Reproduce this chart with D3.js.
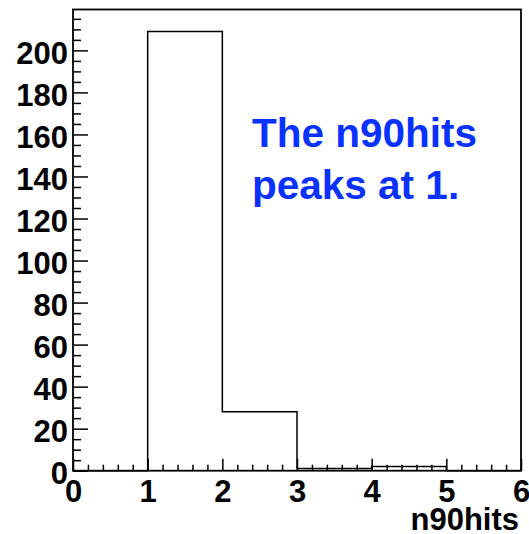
<!DOCTYPE html>
<html>
<head>
<meta charset="utf-8" />
<title></title>
<style>
  body { margin: 0; background: white; }
  text { font-family: "Liberation Sans", Arial, Helvetica, sans-serif; font-weight: bold; }
  .axis path { display: none; }
  .axis line { stroke: black; stroke-width: 1.5px; }
</style>
<script src="https://d3js.org/d3.v7.min.js"></script>
</head>
<body>
<script>
// histogram of n90hits, bins of width 1 from 0 to 6
var binEdges = [0, 1, 2, 3, 4, 5, 6];
var counts = [0, 209, 28, 1, 2, 0];
var xMajor = [0, 1, 2, 3, 4, 5, 6];
var yMajor = [0, 20, 40, 60, 80, 100, 120, 140, 160, 180, 200];
var note = ["The n90hits", "peaks at 1."];
var xTitle = "n90hits";

var width = 529, height = 534;
var frame = {left: 73, right: 521, top: 9.5, bottom: 470.7};

var svg = d3.select("body").append("svg")
    .attr("width", width)
    .attr("height", height);

var x = d3.scaleLinear().domain([0, 6]).range([frame.left, frame.right]);
var ymax = d3.max(counts) * 1.05;
var y = d3.scaleLinear().domain([0, ymax]).range([frame.bottom, frame.top]);

// minor ticks
var xMinor = d3.range(0, 6.001, 0.2).filter(function(v) { return Math.abs(v - Math.round(v)) > 1e-6; });
var yMinor = d3.range(0, ymax, 5).filter(function(v) { return v % 20 != 0; });

svg.append("g").attr("class", "axis")
    .attr("transform", "translate(0," + frame.bottom + ")")
    .call(d3.axisBottom(x).tickValues(xMinor).tickSizeInner(-6).tickSizeOuter(0).tickFormat(""));
svg.append("g").attr("class", "axis")
    .attr("transform", "translate(" + frame.left + ",0)")
    .call(d3.axisLeft(y).tickValues(yMinor).tickSizeInner(-8).tickSizeOuter(0).tickFormat(""));

// major ticks + labels
var xAxis = svg.append("g").attr("class", "axis")
    .attr("transform", "translate(0," + frame.bottom + ")")
    .call(d3.axisBottom(x).tickValues(xMajor).tickSizeInner(-12).tickSizeOuter(0).tickFormat(d3.format("d")));
xAxis.attr("font-size", null).attr("font-family", null);
xAxis.selectAll("text")
    .attr("dy", null)
    .attr("y", 31.5)
    .style("font-size", "31px")
    .attr("fill", "black");

var yAxis = svg.append("g").attr("class", "axis")
    .attr("transform", "translate(" + frame.left + ",0)")
    .call(d3.axisLeft(y).tickValues(yMajor).tickSizeInner(-15).tickSizeOuter(0).tickPadding(5).tickFormat(d3.format("d")));
yAxis.attr("font-size", null).attr("font-family", null);
yAxis.selectAll("text")
    .attr("dy", null)
    .attr("y", 13)
    .style("font-size", "31px")
    .attr("fill", "black");

// histogram outline
var pts = [];
counts.forEach(function(c, i) {
    pts.push([x(binEdges[i]), y(c)]);
    pts.push([x(binEdges[i + 1]), y(c)]);
});
svg.append("path")
    .attr("d", d3.line()(pts))
    .attr("fill", "none")
    .attr("stroke", "black")
    .attr("stroke-width", 1.5);

// frame
svg.append("rect")
    .attr("x", frame.left).attr("y", frame.top)
    .attr("width", frame.right - frame.left).attr("height", frame.bottom - frame.top)
    .attr("fill", "none")
    .attr("stroke", "black")
    .attr("stroke-width", 1.8);

// axis title
svg.append("text")
    .attr("x", 519).attr("y", 530)
    .attr("text-anchor", "end")
    .style("font-size", "31px")
    .text(xTitle);

// blue annotation
svg.selectAll(".note")
    .data(note)
    .enter().append("text")
    .attr("class", "note")
    .attr("x", 252)
    .attr("y", function(d, i) { return 146.5 + i * 52; })
    .attr("fill", "#0a32ff")
    .style("font-size", "40.5px")
    .text(function(d) { return d; });
</script>
</body>
</html>
